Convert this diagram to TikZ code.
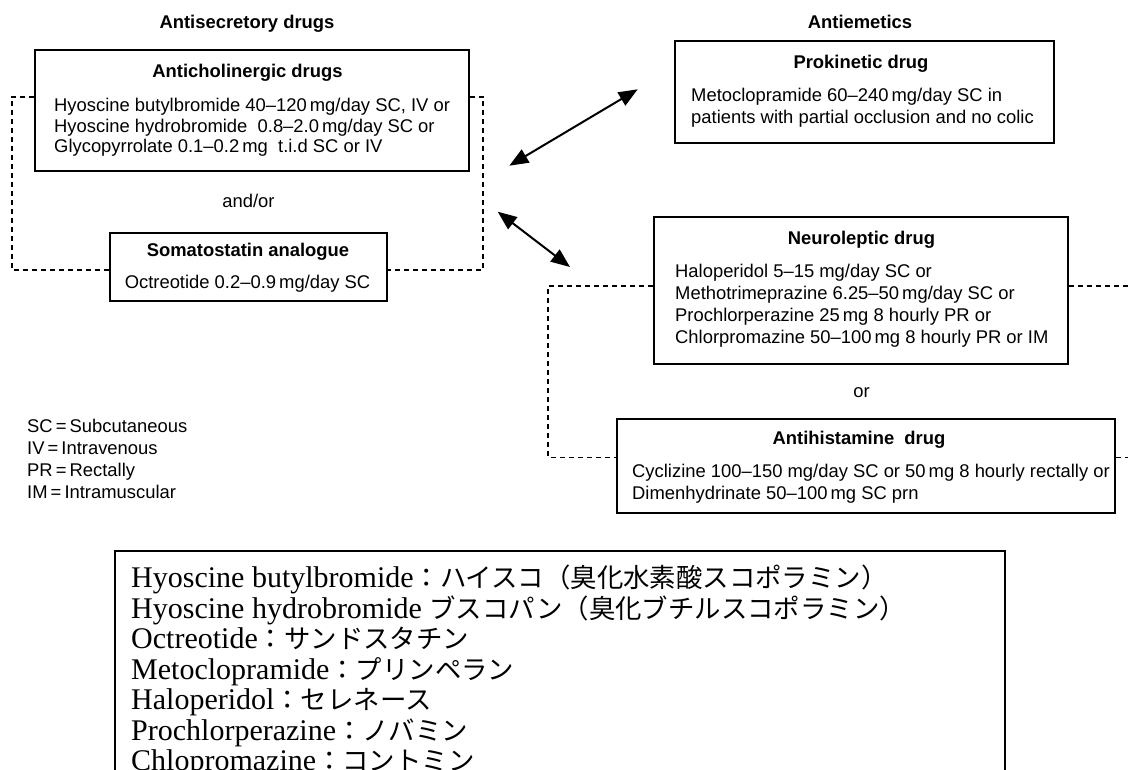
\documentclass[tikz,border=0pt]{standalone}
\usepackage{fontspec}
\setmainfont{Liberation Sans}
\newfontfamily\latinserif{Liberation Serif}
\newfontfamily\cjkfont{Noto Sans CJK JP}
\newcommand{\basefont}{\fontsize{18.4}{22}\selectfont}
\newcommand{\jpname}[1]{{\cjkfont\fontsize{26.4}{30.5}\selectfont #1}}
\usetikzlibrary{arrows.meta}
\begin{document}
\begin{tikzpicture}[x=1pt, y=-1pt,
        drugbox/.style={draw, line width=1.8pt, inner sep=0pt},
        boxtitle/.style={font=\basefont\bfseries, inner sep=0pt},
        boxbody/.style={font=\basefont, align=left, anchor=north west, inner sep=0pt},
        plaintext/.style={font=\basefont, inner sep=0pt},
        glossbody/.style={font=\latinserif\fontsize{30}{30.5}\selectfont, align=left, anchor=north west, inner sep=0pt},
        dashlink/.style={line width=1.8pt, dash pattern=on 5pt off 4pt},
        twoway/.style={{Triangle[length=19pt,width=15pt]}-{Triangle[length=19pt,width=15pt]}, line width=2pt}]
        \clip (0,0) rectangle (1128,769);
        \node[boxtitle] (secr) at (247,23.5) {Antisecretory drugs};
        \node[boxtitle] (emet) at (860,21.5) {Antiemetics};
        \node[drugbox, minimum width=434pt, minimum height=121pt] (anticho) at (252,110.5) {};
        \node[boxtitle] (anchotitle) at (247.5,72.5) {Anticholinergic drugs};
        \node[boxbody, font=\fontsize{18.4}{20.5}\selectfont] (anchobody) at (54,98.2) {Hyoscine butylbromide 40--120\,mg/day SC, IV or\\Hyoscine hydrobromide~ 0.8--2.0\,mg/day SC or\\Glycopyrrolate 0.1--0.2\,mg~ t.i.d SC or IV};
        \node[plaintext] (andor) at (248.5,201) {and/or};
        \node[drugbox, minimum width=277pt, minimum height=68pt] (somat) at (248.5,267) {};
        \node[boxtitle] (somattitle) at (248,252) {Somatostatin analogue};
        \node[plaintext] (somatbody) at (247.5,284) {Octreotide 0.2--0.9\,mg/day SC};
        \node[drugbox, minimum width=379pt, minimum height=102pt] (proki) at (864.5,92) {};
        \node[boxtitle] (prokititle) at (861,64) {Prokinetic drug};
        \node[boxbody] (prokibody) at (691,88.2) {Metoclopramide 60--240\,mg/day SC in\\patients with partial occlusion and no colic};
        \node[drugbox, minimum width=414pt, minimum height=147pt] (neuro) at (861,290.5) {};
        \node[boxtitle] (neurotitle) at (861.5,240) {Neuroleptic drug};
        \node[boxbody] (neurobody) at (675,264.2) {Haloperidol 5--15 mg/day SC or\\Methotrimeprazine 6.25--50\,mg/day SC or\\Prochlorperazine 25\,mg 8 hourly PR or\\Chlorpromazine 50--100\,mg 8 hourly PR or IM};
        \node[plaintext] (ortext) at (861.5,393) {or};
        \node[drugbox, minimum width=498pt, minimum height=94pt] (antihis) at (866,466) {};
        \node[boxtitle] (antihistitle) at (859,439.5) {Antihistamine~ drug};
        \node[boxbody] (antihisbody) at (632,463.7) {Cyclizine 100--150 mg/day SC or 50\,mg 8 hourly rectally or\\Dimenhydrinate 50--100\,mg SC prn};
        \node[boxbody] (legend) at (27,419.2) {SC\,=\,Subcutaneous\\IV\,=\,Intravenous\\PR\,=\,Rectally\\IM\,=\,Intramuscular};
        \coordinate (lct) at (11.7,96.7);
        \coordinate (lcb) at (11.7,270);
        \coordinate (rct) at (483.3,96.7);
        \coordinate (rcb) at (483.3,270);
        \coordinate (ect) at (548.3,286);
        \coordinate (ecb) at (548.3,457.5);
        \coordinate (edt) at (1128,286);
        \coordinate (edb) at (1128,457.5);
        \draw[dashlink] (anticho.west |- lct) -- (lct) -- (lcb) -- (somat.west |- lcb);
        \draw[dashlink] (anticho.east |- rct) -- (rct) -- (rcb) -- (somat.east |- rcb);
        \draw[dashlink] (neuro.west |- ect) -- (ect) -- (ecb) -- (antihis.west |- ecb);
        \draw[dashlink] (neuro.east |- edt) -- (edt);
        \draw[dashlink] (antihis.east |- edb) -- (edb);
        \coordinate (arra) at (509.3,165.7);
        \coordinate (arrb) at (637.7,89.3);
        \coordinate (arrc) at (497.7,211.7);
        \coordinate (arrd) at (570,267);
        \draw[twoway] (arra) -- (arrb);
        \draw[twoway] (arrc) -- (arrd);
        \node[draw, line width=2.2pt, inner sep=0pt, minimum width=890pt, minimum height=300pt] (glossbox) at (560,701) {};
        \node[glossbody] (gloss) at (131,565) {Hyoscine butylbromide\jpname{：ハイスコ（臭化水素酸スコポラミン）}\\Hyoscine hydrobromide \jpname{ブスコパン（臭化ブチルスコポラミン）}\\Octreotide\jpname{：サンドスタチン}\\Metoclopramide\jpname{：プリンペラン}\\Haloperidol\jpname{：セレネース}\\Prochlorperazine\jpname{：ノバミン}\\Chlopromazine\jpname{：コントミン}};
\end{tikzpicture}
\end{document}
